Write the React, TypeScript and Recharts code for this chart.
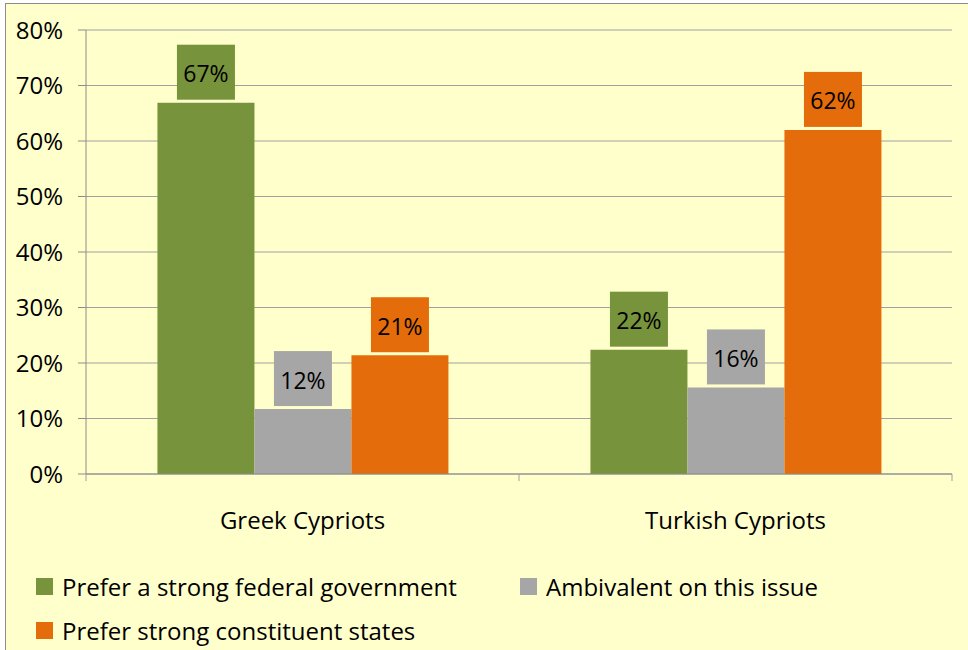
import React from "react";
import { BarChart, Bar, XAxis, YAxis, CartesianGrid, LabelList } from "recharts";

const categories = ["Greek Cypriots", "Turkish Cypriots"];
const federal = [66.9, 22.4];
const ambivalent = [11.7, 15.6];
const constituent = [21.4, 62.0];
const yTicks = [0, 10, 20, 30, 40, 50, 60, 70, 80];

const SERIES = [
  { key: "federal", name: "Prefer a strong federal government", color: "#77933C" },
  { key: "ambivalent", name: "Ambivalent on this issue", color: "#A6A6A6" },
  { key: "constituent", name: "Prefer strong constituent states", color: "#E46C0A" },
];

const data = categories.map((name, i) => ({
  name,
  federal: federal[i],
  ambivalent: ambivalent[i],
  constituent: constituent[i],
}));

const FONT = "'Open Sans', Lato, sans-serif";
const FS = 24;
const BG = "#FFFFCC";

function makeLabel(color: string) {
  return (props: any) => {
    const { x, y, width, value } = props;
    const cx = Number(x) + Number(width) / 2;
    const bw = 58;
    const bh = 55;
    const top = Number(y) - 3 - bh;
    return (
      <g>
        <rect x={cx - bw / 2} y={top} width={bw} height={bh} fill={color} />
        <text
          x={cx}
          y={top + bh / 2 + 1}
          textAnchor="middle"
          dominantBaseline="central"
          fontFamily={FONT}
          fontSize={FS - 1}
          fill="#000"
        >
          {Math.round(Number(value))}%
        </text>
      </g>
    );
  };
}

function CategoryTick(props: any) {
  const { x, y, payload, index, width } = props;
  const band = Number(width) / categories.length;
  return (
    <g>
      <line x1={x - band / 2} x2={x - band / 2} y1={y - 8} y2={y - 1} stroke="#A0A0A0" strokeWidth={1} />
      {index === categories.length - 1 && (
        <line x1={x + band / 2} x2={x + band / 2} y1={y - 8} y2={y - 1} stroke="#A0A0A0" strokeWidth={1} />
      )}
      <text x={x} y={y + 37} textAnchor="middle" dominantBaseline="central" fontFamily={FONT} fontSize={FS} fill="#000">
        {payload.value}
      </text>
    </g>
  );
}

function LegendBox() {
  const item = (s: typeof SERIES[number], w?: number) => (
    <div key={s.key} style={{ display: "flex", alignItems: "center", width: w }}>
      <span style={{ width: 17, height: 17, background: s.color, display: "inline-block", marginRight: 9 }} />
      <span style={{ fontFamily: FONT, fontSize: FS, color: "#000", whiteSpace: "nowrap" }}>{s.name}</span>
    </div>
  );
  return (
    <div style={{ position: "absolute", left: 36, top: 564 }}>
      <div style={{ display: "flex", height: 44, alignItems: "center" }}>
        {item(SERIES[0], 484)}
        {item(SERIES[1])}
      </div>
      <div style={{ display: "flex", height: 44, alignItems: "center" }}>{item(SERIES[2])}</div>
    </div>
  );
}

export default function App() {
  return (
    <div style={{ position: "absolute", left: 0, top: 0, width: 968, height: 650, overflow: "hidden", background: "#fff" }}>
      <div
        style={{
          position: "absolute",
          left: 5,
          top: 3,
          width: 980,
          height: 660,
          background: BG,
          border: "1px solid #8C8C8C",
        }}
      />
      <div style={{ position: "absolute", left: 0, top: 0 }}>
        <BarChart
          width={968}
          height={650}
          data={data}
          margin={{ top: 30, right: 16, left: 0, bottom: 0 }}
          barCategoryGap="16.5%"
          barGap={0}
        >
          <CartesianGrid horizontal vertical={false} stroke="#A0A0A0" />
          <XAxis
            dataKey="name"
            axisLine={{ stroke: "#8C8C8C" }}
            tickLine={false}
            tick={<CategoryTick />}
            interval={0}
            height={176}
          />
          <YAxis
            width={86}
            domain={[0, 80]}
            ticks={yTicks}
            interval={0}
            tickFormatter={(v: number) => `${v}%`}
            axisLine={{ stroke: "#8C8C8C" }}
            tickLine={{ stroke: "#8C8C8C" }}
            tickSize={8}
            tickMargin={15}
            tick={{ fontFamily: FONT, fontSize: FS, fill: "#000" }}
          />
          {SERIES.map((s) => (
            <Bar key={s.key} dataKey={s.key} name={s.name} fill={s.color} isAnimationActive={false}>
              <LabelList dataKey={s.key} content={makeLabel(s.color)} />
            </Bar>
          ))}
        </BarChart>
      </div>
      <LegendBox />
    </div>
  );
}
